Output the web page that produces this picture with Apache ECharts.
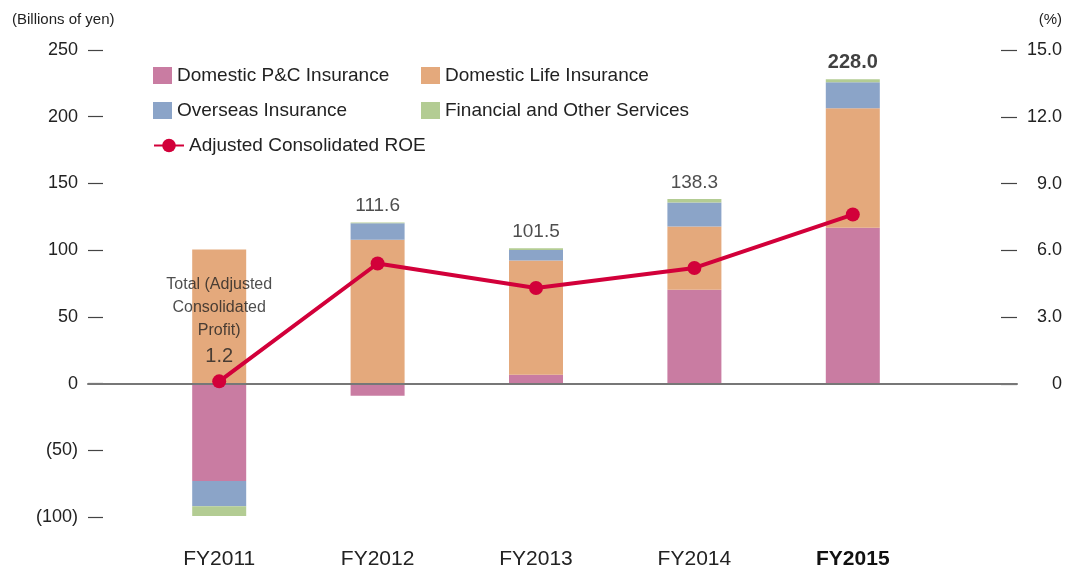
<!DOCTYPE html>
<html>
<head>
<meta charset="utf-8">
<script src="https://cdn.jsdelivr.net/npm/echarts@6/dist/echarts.min.js"></script>
<style>html,body{margin:0;padding:0;background:#fff}#c{width:1068px;height:570px}</style>
</head>
<body>
<div id="c"></div>
<script>
var categories = ['FY2011', 'FY2012', 'FY2013', 'FY2014', 'FY2015'];
var domesticPC = [-73.0, -9.2, 6.6, 70.4, 116.8];
var domesticLife = [100.5, 107.7, 85.6, 47.3, 89.5];
var overseas = [-19.0, 12.5, 8.0, 18.0, 19.6];
var financial = [-7.3, 0.6, 1.3, 2.6, 2.1];
var totals = [1.2, 111.6, 101.5, 138.3, 228.0];
var roe = [0.1, 5.4, 4.3, 5.2, 7.6];
var leftTicks = { min: -100, max: 250, interval: 50 };
var rightTicks = { min: 0, max: 15, interval: 3 };

var FONT = '"Liberation Sans", Arial, sans-serif';
var TXT = '#222';
var colors = { pc: '#C97CA2', life: '#E4A97C', ov: '#8BA4C8', fin: '#B3CC93', roe: '#D2003A' };

var chart = echarts.init(document.getElementById('c'));

// top of the positive part of each stack (where the total label sits)
var positiveTop = categories.map(function (_, i) {
  return [domesticPC, domesticLife, overseas, financial].reduce(function (s, arr) {
    return s + Math.max(0, arr[i]);
  }, 0);
});

var totalData = totals.map(function (v, i) {
  if (i === 0) {
    return {
      value: v, total: v,
      label: {
        formatter: '{t|Total (Adjusted}\n{t|Consolidated}\n{t|Profit)}\n{v|' + v.toFixed(1) + '}',
        distance: 10,
        rich: {
          t: { fontSize: 16, lineHeight: 23, color: TXT, fontFamily: FONT, align: 'center' },
          v: { fontSize: 20, lineHeight: 30, color: TXT, fontFamily: FONT, align: 'center' }
        }
      }
    };
  }
  var item = { value: positiveTop[i], total: v };
  if (i === totals.length - 1) {
    item.label = { fontWeight: 'bold', fontSize: 20, color: '#111' };
  }
  return item;
});

function barSeries(name, data, color) {
  return {
    name: name, type: 'bar', stack: 'total', xAxisIndex: 1, yAxisIndex: 1,
    barWidth: 54, data: data, itemStyle: { color: color }, z: 2
  };
}

var legendText = { fontSize: 19, color: TXT, fontFamily: FONT };

var option = {
  animation: false,
  textStyle: { fontFamily: FONT },
  grid: [
    { left: 88, right: 51, top: 50, bottom: 53 },
    { left: 140, right: 136, top: 50, bottom: 53 },
    { left: 88, right: 51, top: 50, height: 334 }
  ],
  xAxis: [
    { type: 'value', gridIndex: 0, min: 0, max: 1, axisLabel: { show: false }, axisTick: { show: false }, splitLine: { show: false },
      axisLine: { show: true, onZero: true, lineStyle: { color: '#777', width: 2 } }, z: 5 },
    { type: 'category', gridIndex: 1, data: categories, axisLine: { show: false }, axisTick: { show: false },
      axisLabel: { margin: 32, fontSize: 21, color: TXT, fontFamily: FONT,
        formatter: function (v, i) { return i === categories.length - 1 ? '{b|' + v + '}' : v; },
        rich: { b: { fontWeight: 'bold', fontSize: 21, color: '#111', fontFamily: FONT } } } },
    { type: 'value', gridIndex: 2, min: 0, max: 1, show: false }
  ],
  yAxis: [
    { type: 'value', gridIndex: 0, position: 'left', min: leftTicks.min, max: leftTicks.max, interval: leftTicks.interval,
      axisLine: { show: false, onZero: false }, splitLine: { show: false },
      axisTick: { show: true, inside: true, length: 15, lineStyle: { color: '#444', width: 1.2 } },
      axisLabel: { margin: 10, fontSize: 18, color: TXT, fontFamily: FONT,
        formatter: function (v) { return v < 0 ? '(' + (-v) + ')' : String(v); } } },
    { type: 'value', gridIndex: 1, min: leftTicks.min, max: leftTicks.max, show: false },
    { type: 'value', gridIndex: 2, position: 'right', min: rightTicks.min, max: rightTicks.max, interval: rightTicks.interval,
      axisLine: { show: false, onZero: false }, splitLine: { show: false },
      axisTick: { show: true, inside: true, length: 16, lineStyle: { color: '#444', width: 1.2 } },
      axisLabel: { margin: 45, align: 'right', fontSize: 18, color: TXT, fontFamily: FONT,
        formatter: function (v) { return v === 0 ? '0' : v.toFixed(1); } } },
    { type: 'value', gridIndex: 1, min: -6, max: 15, show: false }
  ],
  legend: [
    { orient: 'vertical', left: 153, top: 66, padding: 0, itemWidth: 19, itemHeight: 17, itemGap: 16, icon: 'rect',
      data: ['Domestic P&C Insurance', 'Overseas Insurance'], textStyle: legendText },
    { orient: 'vertical', left: 421, top: 66, padding: 0, itemWidth: 19, itemHeight: 17, itemGap: 16, icon: 'rect',
      data: ['Domestic Life Insurance', 'Financial and Other Services'], textStyle: legendText },
    { orient: 'vertical', left: 153, top: 136, padding: 0, itemWidth: 30, itemHeight: 17,
      data: ['Adjusted Consolidated ROE'], textStyle: legendText }
  ],
  graphic: [
    { type: 'text', left: 12, top: 12, style: { text: '(Billions of yen)', fontSize: 15, fill: TXT, fontFamily: FONT } },
    { type: 'text', right: 6, top: 12, style: { text: '(%)', fontSize: 15, fill: TXT, fontFamily: FONT } }
  ],
  series: [
    barSeries('Domestic P&C Insurance', domesticPC, colors.pc),
    barSeries('Domestic Life Insurance', domesticLife, colors.life),
    barSeries('Overseas Insurance', overseas, colors.ov),
    barSeries('Financial and Other Services', financial, colors.fin),
    { name: 'Total', type: 'scatter', xAxisIndex: 1, yAxisIndex: 1, symbolSize: 0, data: totalData, z: 6,
      label: { show: true, position: 'top', distance: 7, fontSize: 19, color: TXT, fontFamily: FONT,
        formatter: function (p) { return p.data.total.toFixed(1); } }, silent: true },
    { name: 'Adjusted Consolidated ROE', type: 'line', xAxisIndex: 1, yAxisIndex: 3, data: roe,
      symbol: 'circle', symbolSize: 14, itemStyle: { color: colors.roe }, lineStyle: { color: colors.roe, width: 4 }, z: 8 }
  ]
};
chart.setOption(option);
</script>
</body>
</html>
